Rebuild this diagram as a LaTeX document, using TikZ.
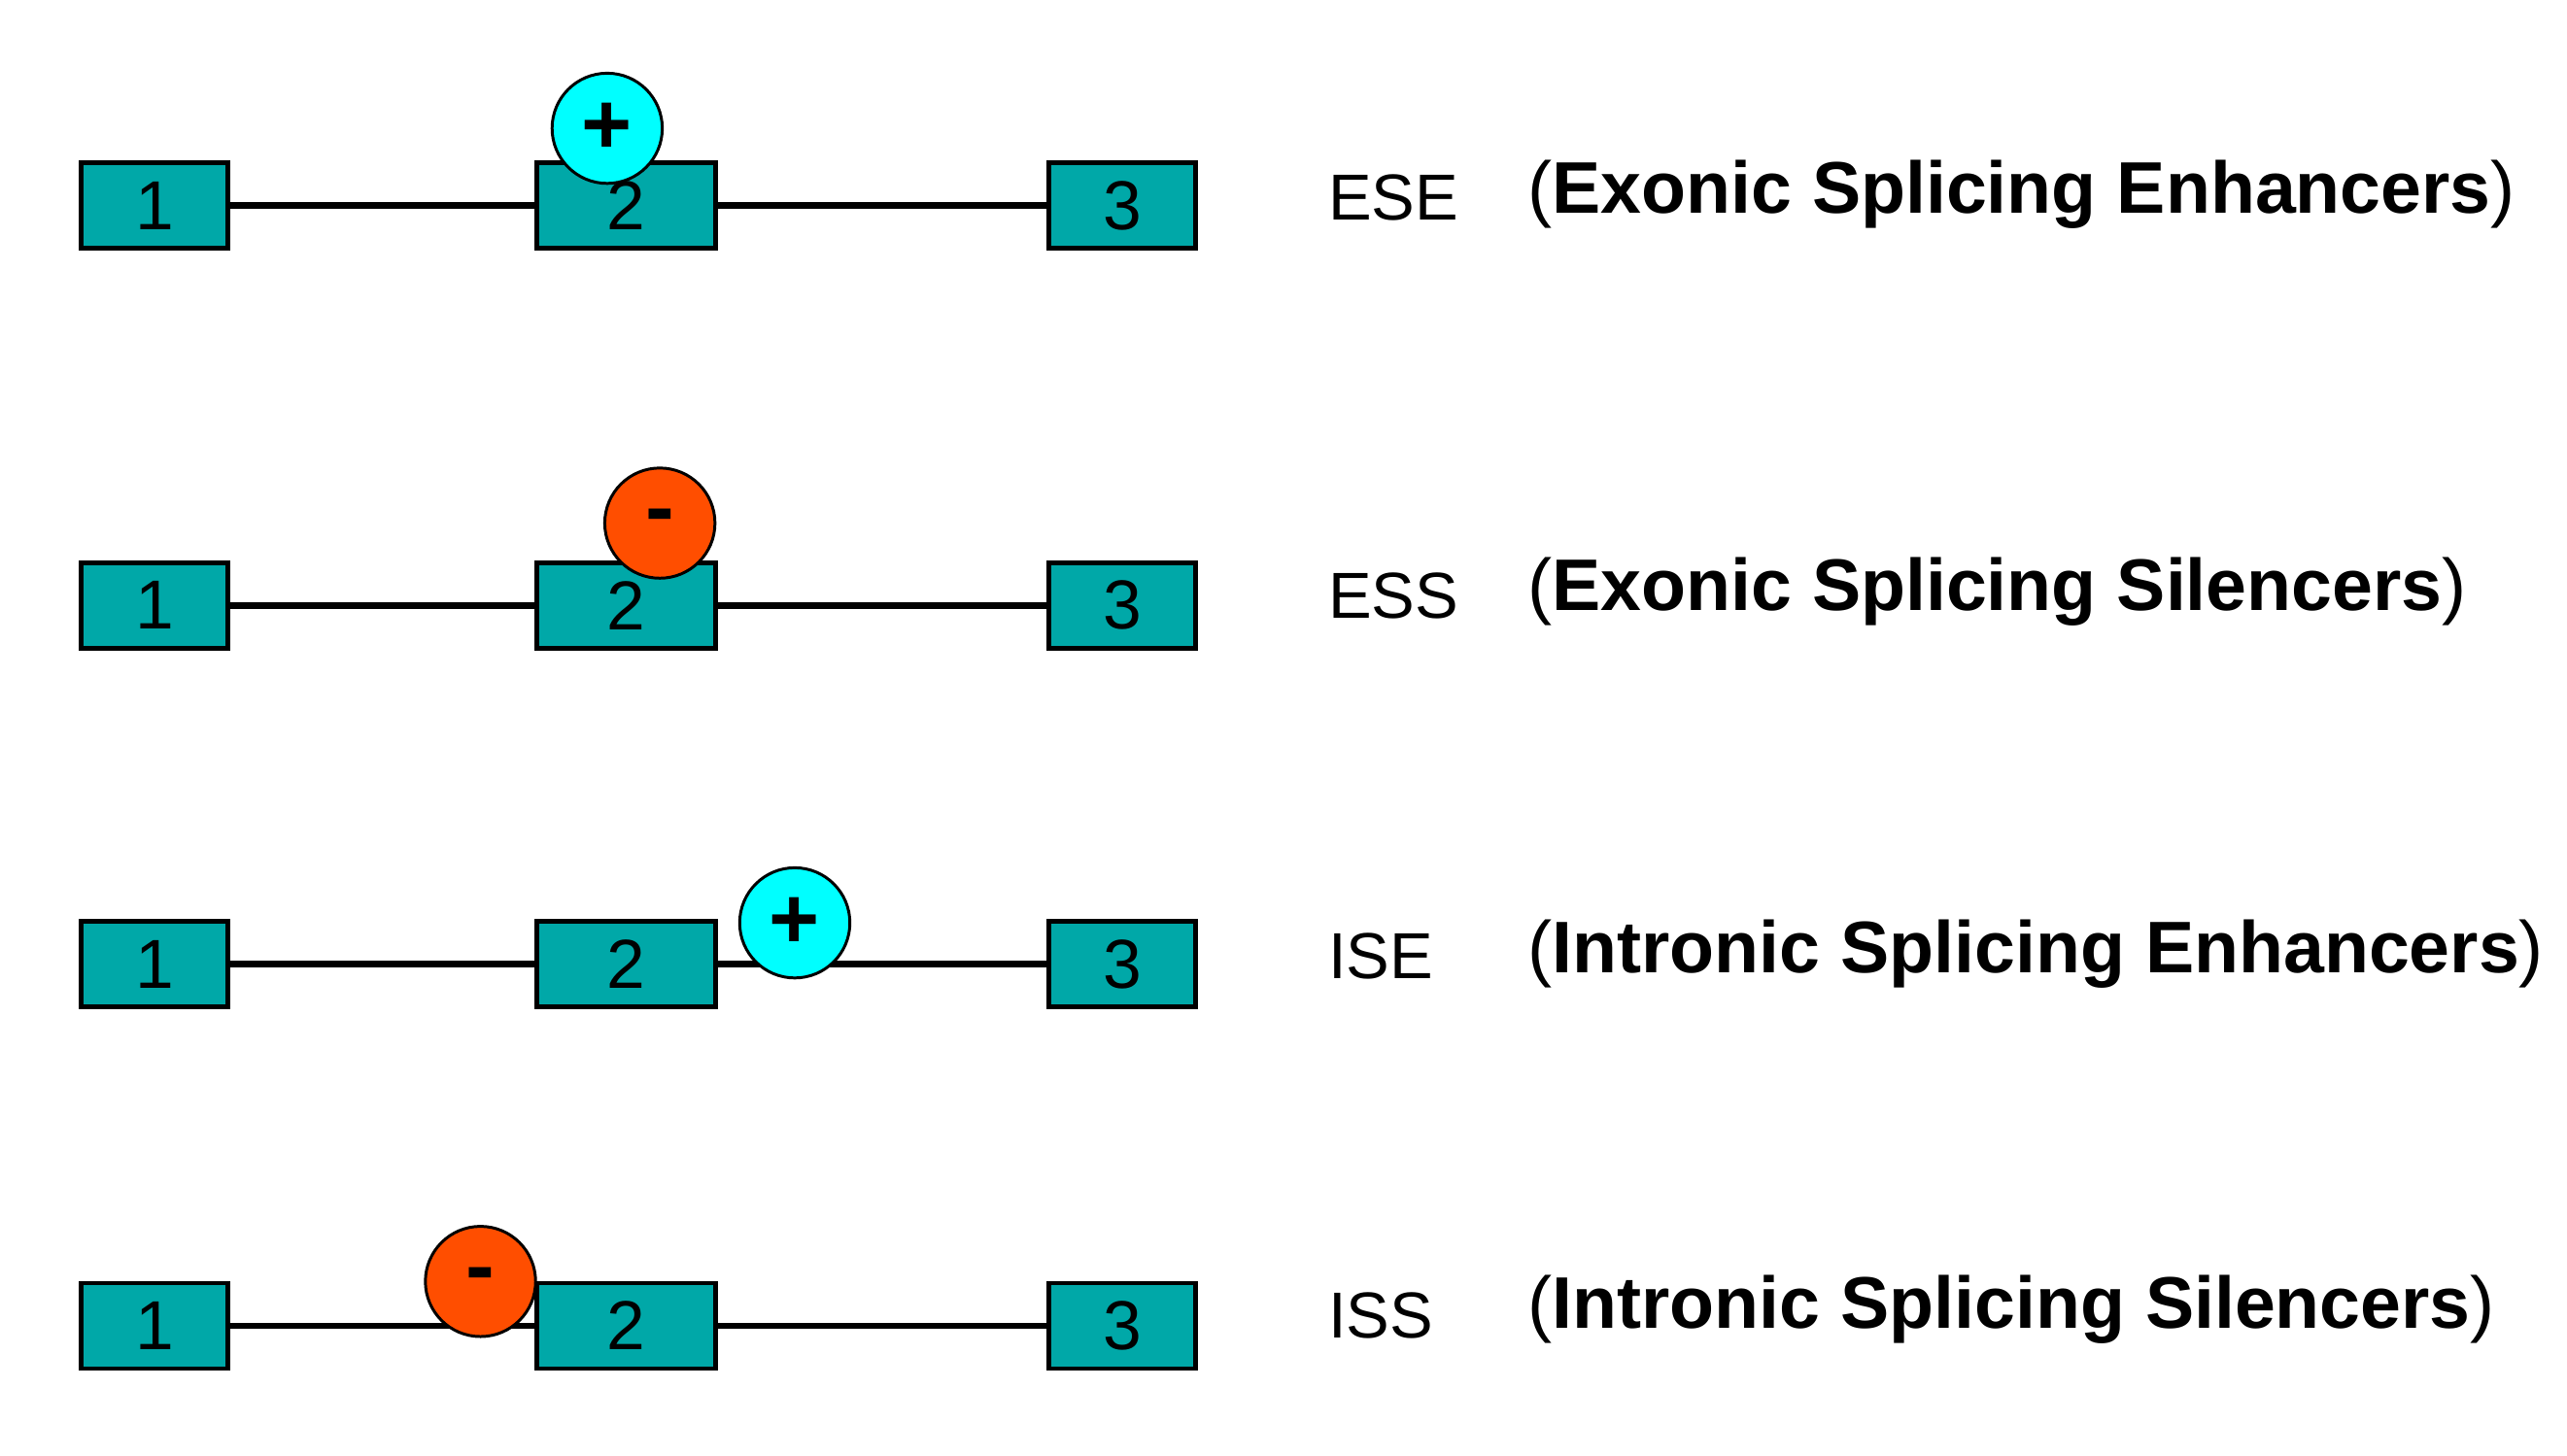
\documentclass[tikz,border=0pt]{standalone}
\usepackage{fontspec}
\setmainfont{Liberation Sans}
\definecolor{exon}{HTML}{00A8A8}
\definecolor{enh}{HTML}{00FFFF}
\definecolor{sil}{HTML}{FF4E00}
\begin{document}
\begin{tikzpicture}[x=0.02cm,y=-0.02cm,
  exonbox/.style={draw=black,line width=1.6pt,fill=exon,minimum width=1.78cm,minimum height=1.04cm,inner sep=0pt,font=\fontsize{24}{26}\selectfont},
  intron/.style={line width=2.2pt},
  enhc/.style={circle,draw=black,line width=1pt,fill=enh,minimum size=1.34cm,inner sep=0pt,font=\fontsize{30}{30}\selectfont\bfseries},
  silc/.style={circle,draw=black,line width=1pt,fill=sil,minimum size=1.34cm,inner sep=0pt,font=\fontsize{30}{30}\selectfont\bfseries},
  abbr/.style={anchor=west,inner sep=0pt,font=\fontsize{22.5}{26}\selectfont},
  full/.style={anchor=west,inner sep=0pt,font=\fontsize{25.3}{28}\selectfont}]
\useasboundingbox (0,0) rectangle (1560,885);
\foreach \r/\yy in {a/125,b/368,c/586,d/806}{
  \node[exonbox] (\r1) at (94,\yy) {1};
  \node[exonbox,minimum width=2.18cm] (\r2) at (380.5,\yy) {2};
  \node[exonbox] (\r3) at (682,\yy) {3};
  \draw[intron] (\r1) -- (\r2);
  \draw[intron] (\r2) -- (\r3);
}
\node[enhc] (ca) at (369,78) {+};
\node[silc] (cb) at (401,318) {-};
\node[enhc] (cc) at (483,561) {+};
\node[silc] (cd) at (292,779) {-};
\node[abbr] (la) at (807,120) {ESE};
\node[abbr] (lb) at (807,362) {ESS};
\node[abbr] (lc) at (807,581) {ISE};
\node[abbr] (ld) at (807,800) {ISS};
\node[full] (fa) at (928,118) {(\textbf{Exonic Splicing Enhancers})};
\node[full] (fb) at (928,360) {(\textbf{Exonic Splicing Silencers})};
\node[full] (fc) at (928,580) {(\textbf{Intronic Splicing Enhancers})};
\node[full] (fd) at (928,796) {(\textbf{Intronic Splicing Silencers})};
\end{tikzpicture}
\end{document}
